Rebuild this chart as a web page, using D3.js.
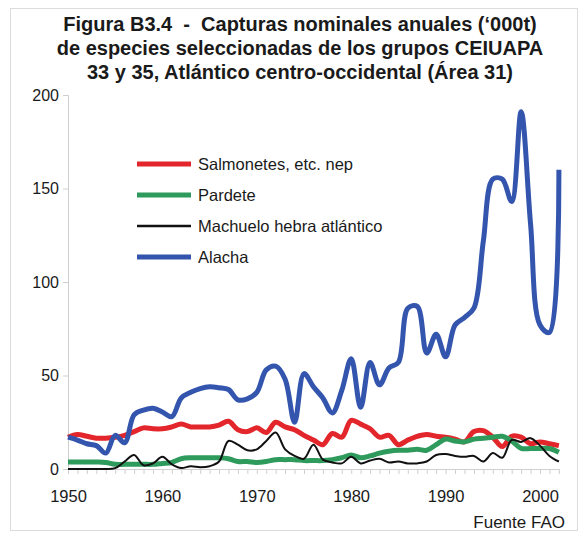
<!DOCTYPE html>
<html>
<head>
<meta charset="utf-8">
<script src="https://cdn.jsdelivr.net/npm/d3@7"></script>
<style>
  body { margin: 0; background: #fff; }
  svg { display: block; font-family: "Liberation Sans", Arial, sans-serif; }
</style>
</head>
<body>
<svg id="chart" width="580" height="533"></svg>
<script>
const years = d3.range(1950, 2003);
const salmonetes = [17,18.5,17.5,16.5,16.5,17,18,20,22,21.5,21.5,22.5,24,22.5,22.5,22.5,23.5,25.5,21,20,22,19.5,25,22.5,21,18,15.5,13,19,17,26,24,21.5,17,18,13,15.5,17.5,18.5,17.5,17,16,14.5,20,20.5,17,12,17.5,17,13.5,14.5,13.5,12.5];
const pardete = [3.7,3.7,3.7,3.7,3.5,2.5,2.5,2.5,2.5,2.5,3,3.5,5.5,6,6,6,6,5.5,4,4,3.5,4,5,5,5,4.5,4.5,4.5,5,6,7.5,6,7,8.5,9.5,10,10,10.5,10,13,16,15,14.5,16,16.5,17,17.5,15,11,11,11,11,9];
const machuelo = [0,0,0,0,0,0.5,4,7.5,2,3,6.5,2.5,0.5,1.5,1,1.5,4,15,13,10,10.5,15,19.5,10.5,7,5.5,13,5,3.5,3,6.5,3,4.5,5.5,3.5,4,3,3,4,7.5,8,7,6.5,7,4,8.5,6,15.5,14.5,16.5,12.5,7,4];
const alacha = [17,15.5,13.5,12.5,8.5,18,14,29,31.5,32.5,30.5,28,38,41,43,44,43.5,42.5,37,37.5,41,53,55,48,25,51,44,38,30,42,59,33,57,45,54,57,86,87,62,72,60,77,81,86,122,155,155,143,191,131,77,73,160];
const seriesNames = ["Salmonetes, etc. nep", "Pardete", "Machuelo hebra atlántico", "Alacha"];
const yTicks = [0, 50, 100, 150, 200];
const xTicks = [1950, 1960, 1970, 1980, 1990, 2000];
const titleLines = ["Figura B3.4  -  Capturas nominales anuales (‘000t)", "de especies seleccionadas de los grupos CEIUAPA", "33 y 35, Atlántico centro-occidental (Área 31)"];

const series = [
  {name: seriesNames[0], values: salmonetes, color: "#e3262b", width: 5},
  {name: seriesNames[1], values: pardete, color: "#2e9a5c", width: 5},
  {name: seriesNames[2], values: machuelo, color: "#111111", width: 2},
  {name: seriesNames[3], values: alacha, color: "#3455ad", width: 5}
];

const svg = d3.select("#chart");
svg.append("rect").attr("x", 10.5).attr("y", 8.5).attr("width", 567).attr("height", 522)
  .attr("fill", "#fff").attr("stroke", "#dcdcdc");

const x = d3.scaleLinear().domain([1950, 2000]).range([68, 540]);
const y = d3.scaleLinear().domain([0, 200]).range([469, 95]);

// title
svg.append("g").selectAll("text").data(titleLines).join("text")
  .attr("x", 300).attr("y", (d, i) => 31 + i * 24)
  .attr("text-anchor", "middle").attr("font-size", 20).attr("font-weight", "bold")
  .style("white-space", "pre")
  .attr("fill", "#1a1a1a").text(d => d);

// y axis
const yAxis = svg.append("g").attr("transform", `translate(${x(1950)},0)`)
  .call(d3.axisLeft(y).tickValues(yTicks).tickSize(5).tickPadding(4));
yAxis.select(".domain").attr("stroke", "#cfcfcf");
yAxis.selectAll(".tick line").attr("stroke", "#cfcfcf");
yAxis.selectAll("text").attr("font-size", 16).attr("fill", "#1a1a1a").attr("font-family", "Liberation Sans, Arial, sans-serif");

// x axis
const xAxis = svg.append("g").attr("transform", `translate(0,${y(0)})`)
  .call(d3.axisBottom(x).tickValues(years).tickSize(5).tickFormat(d => xTicks.includes(d) ? d : "").tickPadding(16));
xAxis.select(".domain").attr("stroke", "#cfcfcf").attr("d", `M${x(1950)},0.5H${x(2002)}`);
xAxis.selectAll(".tick line").attr("stroke", "#cfcfcf");
xAxis.selectAll("text").attr("font-size", 16.5).attr("fill", "#1a1a1a").attr("font-family", "Liberation Sans, Arial, sans-serif");

// lines
const line = d3.line().x((d, i) => x(years[i])).y(d => y(d)).curve(d3.curveCatmullRom.alpha(0.5));
svg.append("g").selectAll("path").data(series).join("path")
  .attr("d", d => line(d.values)).attr("fill", "none")
  .attr("stroke", d => d.color).attr("stroke-width", d => d.width)
  .attr("stroke-linejoin", "round");

// legend
const lg = svg.append("g").selectAll("g").data(series).join("g")
  .attr("transform", (d, i) => `translate(137,${164 + i * 31})`);
lg.append("line").attr("x1", 0).attr("x2", 54).attr("y1", 0).attr("y2", 0)
  .attr("stroke", d => d.color).attr("stroke-width", d => d.width === 2 ? 2.5 : 5);
lg.append("text").attr("x", 61).attr("y", 6).attr("font-size", 16.5).attr("fill", "#1a1a1a").text(d => d.name);

// source
svg.append("text").attr("x", 565).attr("y", 528).attr("text-anchor", "end")
  .attr("font-size", 17).attr("fill", "#1a1a1a").text("Fuente FAO");
</script>
</body>
</html>
